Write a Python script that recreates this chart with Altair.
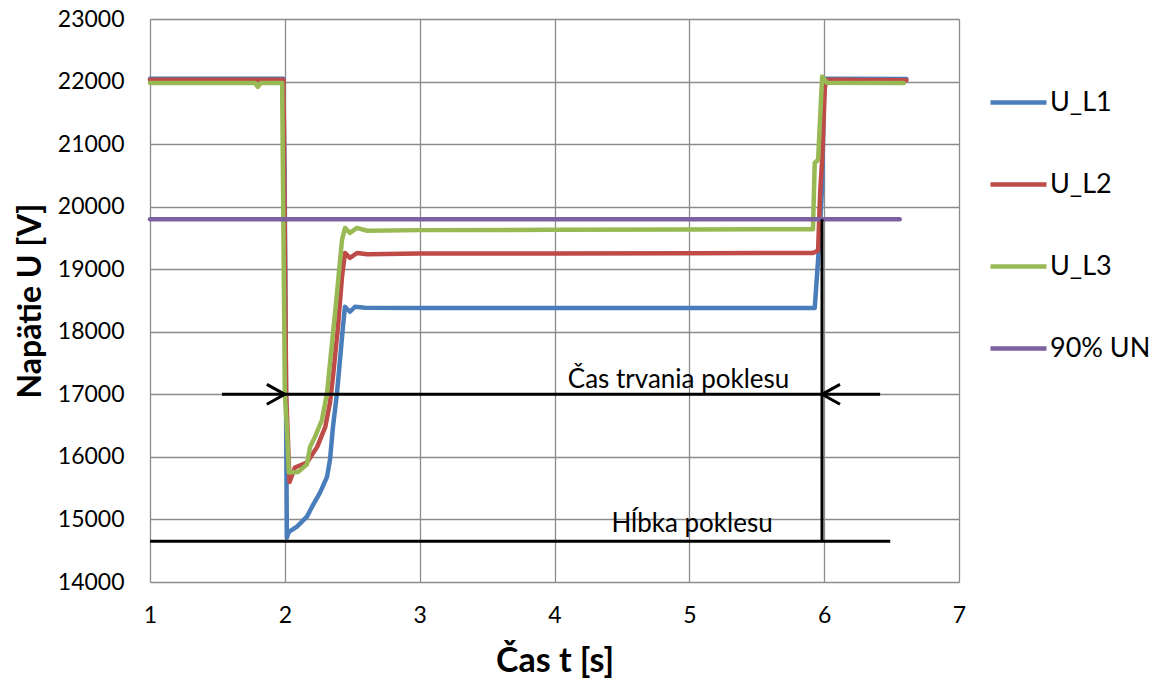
import altair as alt
import pandas as pd

FONT = "Lato"

# ---- data ----
l1_t = [1.0, 1.99, 2.0, 2.015, 2.03, 2.09, 2.164, 2.201, 2.261, 2.313, 2.335, 2.357, 2.387, 2.409, 2.431, 2.446, 2.483, 2.52, 2.595, 3.0, 4.0, 5.0, 5.93, 5.955, 5.985, 6.0, 6.61]
l1_v = [22045, 22045, 20000, 14709, 14800, 14885, 15045, 15200, 15430, 15680, 15955, 16480, 17025, 17550, 18080, 18400, 18320, 18400, 18385, 18380, 18380, 18380, 18380, 19150, 20315, 22045, 22040]

l2_t = [1.0, 1.99, 2.01, 2.035, 2.075, 2.164, 2.24, 2.30, 2.335, 2.357, 2.394, 2.424, 2.446, 2.483, 2.535, 2.61, 3.0, 4.0, 5.0, 5.917, 5.955, 5.97, 5.985, 6.005, 6.02, 6.61]
l2_v = [22030, 22030, 17000, 15600, 15830, 15910, 16160, 16480, 16870, 17280, 18080, 18880, 19260, 19180, 19260, 19240, 19250, 19250, 19255, 19260, 19300, 20220, 20750, 21910, 22030, 22020]

l3_t = [1.0, 1.78, 1.80, 1.82, 1.98, 2.0, 2.015, 2.03, 2.1, 2.164, 2.187, 2.224, 2.275, 2.313, 2.35, 2.387, 2.424, 2.446, 2.483, 2.535, 2.61, 3.0, 4.0, 5.0, 5.917, 5.93, 5.955, 5.985, 6.02, 6.59]
l3_v = [21975, 21975, 21915, 21975, 21975, 17020, 16480, 15750, 15760, 15880, 16160, 16320, 16590, 17020, 17820, 18620, 19470, 19660, 19580, 19660, 19615, 19625, 19630, 19635, 19640, 20700, 20750, 22080, 21980, 21975]

un_t = [1.0, 6.56]
un_v = [19800, 19800]

series_names = ["U_L1", "U_L2", "U_L3", "90% UN"]
series_colors = ["#4A7EBB", "#BE4B48", "#98B954", "#7D60A0"]

# annotation values
dur_line_t = [1.534, 6.415]
dur_level = 17000
depth_line_t = [1.0, 6.49]
depth_level = 14650
end_t = 5.984
arrow_t = [2.0, 5.984]
arrow_shape = ["M -1 -0.55 L 0 0 L -1 0.55", "M 1 -0.55 L 0 0 L 1 0.55"]
label_texts = ["Čas trvania poklesu", "Hĺbka poklesu"]
label_t = [4.92, 5.02]
label_v = [17230, 14935]

x_ticks = [1, 2, 3, 4, 5, 6, 7]
y_ticks = [14000, 15000, 16000, 17000, 18000, 19000, 20000, 21000, 22000, 23000]

rows = []
for name, ts, vs in zip(series_names, [l1_t, l2_t, l3_t, un_t], [l1_v, l2_v, l3_v, un_v]):
    for i, (t, v) in enumerate(zip(ts, vs)):
        rows.append({"s": name, "t": t, "v": v, "i": i})
df = pd.DataFrame(rows)

xs = alt.Scale(domain=[1, 7], nice=False)
ys = alt.Scale(domain=[14000, 23000], nice=False)
color = alt.Color("s:N", scale=alt.Scale(domain=series_names, range=series_colors),
                  legend=alt.Legend(title=None, orient="none", legendX=838, legendY=53,
                                    symbolType="stroke", symbolSize=3136, symbolStrokeWidth=4.5,
                                    labelFont=FONT, labelFontSize=27, labelColor="#000000",
                                    rowPadding=38, labelOffset=1))

xax = alt.Axis(values=x_ticks, title="Čas t [s]", format="d",
               labelFont=FONT, labelFontSize=23, labelColor="#000", labelPadding=22,
               labelFlush=False,
               titleFont=FONT, titleFontSize=34, titleFontWeight="bold", titleColor="#000",
               titlePadding=17, grid=True, gridColor="#8C8C8C", gridWidth=1.3,
               ticks=False, domain=False)
yax = alt.Axis(values=y_ticks, title="Napätie U [V]", format="d",
               labelFont=FONT, labelFontSize=23, labelColor="#000", labelPadding=26,
               labelFlush=False,
               titleFont=FONT, titleFontSize=32, titleFontWeight="bold", titleColor="#000",
               titlePadding=10, grid=True, gridColor="#8C8C8C", gridWidth=1.3,
               ticks=False, domain=False)

X = alt.X("t:Q", scale=xs, axis=xax)
Y = alt.Y("v:Q", scale=ys, axis=yax)

layers = []
for name in series_names:
    layers.append(alt.Chart(df).transform_filter(alt.datum.s == name)
                  .mark_line(strokeWidth=4.5, strokeCap="round", strokeJoin="round")
                  .encode(x=X, y=Y, color=color, order="i:Q"))

hl = pd.DataFrame({"t": dur_line_t + depth_line_t,
                   "v": [dur_level, dur_level, depth_level, depth_level],
                   "g": ["a", "a", "b", "b"]})
lines = alt.Chart(hl).mark_line(color="#000", strokeWidth=3).encode(x=X, y=Y, detail="g:N")

vl = pd.DataFrame({"t": [end_t], "v": [depth_level], "v2": [19800]})
vline = alt.Chart(vl).mark_rule(color="#000", strokeWidth=3).encode(x=X, y=Y, y2="v2:Q")

ar = pd.DataFrame({"t": arrow_t, "v": [dur_level, dur_level], "shape": arrow_shape})
arrows = alt.Chart(ar).mark_point(filled=False, color="#000", strokeWidth=3, size=1296, opacity=1).encode(
    x=X, y=Y, shape=alt.Shape("shape:N", scale=None))

tx = pd.DataFrame({"t": label_t, "v": label_v, "txt": label_texts})
texts = alt.Chart(tx).mark_text(font=FONT, fontSize=26, color="#000", align="center", baseline="middle").encode(
    x=X, y=Y, text="txt:N")

chart = alt.layer(*layers, vline, lines, arrows, texts).properties(
    width=809, height=563,
    autosize=alt.AutoSizeParams(type="none"),
    padding={"left": 142, "top": 11, "right": 194, "bottom": 98},
).configure_view(stroke=None).configure(background="white")

chart.save("out.html", embed_options={"renderer": "svg", "actions": False})
